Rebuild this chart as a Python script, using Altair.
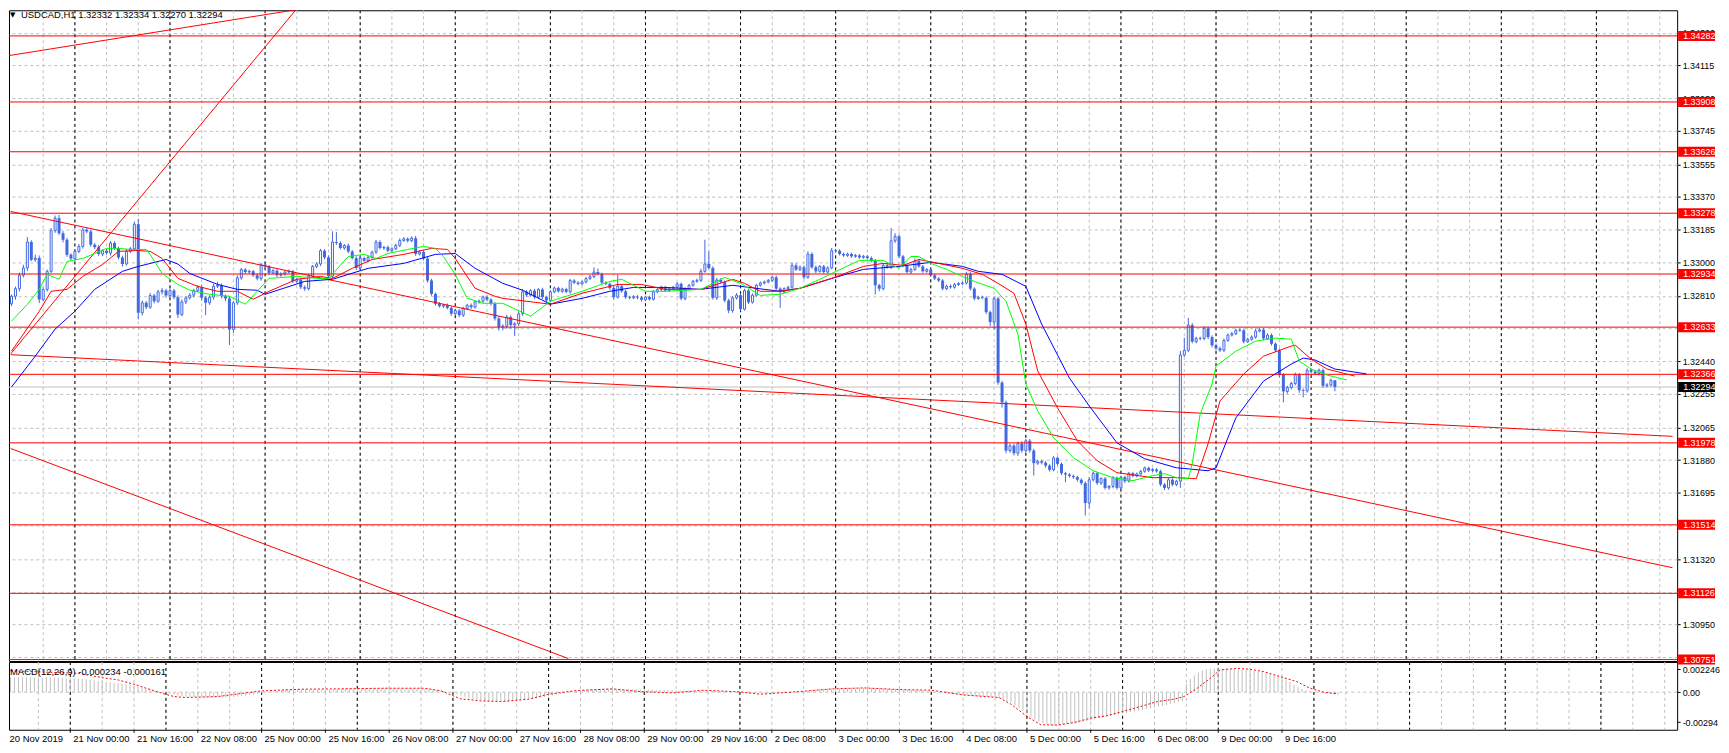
import altair as alt
import pandas as pd

FONT = "Liberation Sans"
CANDLE = "#4169E1"
PT = 1e-5  # one price point

# ---------------- price data (points, 1e-5) ----------------
first_open = 132765
closes = [
    132808, 132851, 132927, 132968, 133115, 133015, 133024, 132789, 132846, 132949,
    133179, 133250, 133165, 133128, 133043, 133021, 133062, 133090, 133184, 133175,
    133100, 133085, 133047, 133066, 133053, 133109, 133081, 133028, 132991, 133062,
    133077, 133216, 132714, 132771, 132746, 132812, 132780, 132833, 132840, 132812,
    132840, 132803, 132705, 132776, 132799, 132814, 132840, 132859, 132799, 132771,
    132803, 132865, 132870, 132808, 132795, 132620, 132771, 132912, 132959, 132945,
    132949, 132927, 132908, 132987, 132977, 132940, 132953, 132927, 132934, 132945,
    132949, 132893, 132902, 132859, 132851, 132921, 132977, 132991, 133066, 133028,
    132921, 133115, 133109, 133081, 133096, 133062, 133024, 132968, 133024, 133009,
    133028, 133058, 133115, 133081, 133085, 133066, 133077, 133096, 133124, 133133,
    133122, 133137, 133047, 133058, 133021, 132897, 132821, 132765, 132752, 132757,
    132742, 132709, 132727, 132701, 132739, 132757, 132746, 132776, 132780, 132804,
    132789, 132765, 132682, 132633, 132639, 132690, 132645, 132652, 132709, 132833,
    132814, 132840, 132803, 132846, 132803, 132784, 132833, 132855, 132836, 132848,
    132833, 132897, 132885, 132878, 132889, 132908, 132919, 132945, 132934, 132885,
    132878, 132855, 132803, 132865, 132836, 132803, 132799, 132806, 132801, 132788,
    132803, 132791, 132833, 132846, 132859, 132840, 132851, 132859, 132878, 132795,
    132851, 132870, 132893, 132898, 132949, 132991, 132968, 132799, 132900, 132889,
    132784, 132727, 132799, 132814, 132735, 132840, 132774, 132814, 132870, 132883,
    132889, 132898, 132915, 132851, 132833, 132851, 132859, 132983, 132959, 132972,
    132915, 133047, 132972, 132949, 132977, 132945, 132968, 133066, 133066, 133047,
    133039, 133047, 133034, 133039, 133028, 133034, 133024, 133009, 132870, 132851,
    132983, 132972, 133122, 133147, 133034, 132983, 132945, 132959, 133009, 132977,
    132949, 132959, 132927, 132908, 132897, 132851, 132865, 132859, 132874, 132880,
    132883, 132934, 132851, 132795, 132803, 132799, 132718, 132662, 132795, 132319,
    132207, 131934, 131962, 131919, 131975, 131934, 131990, 131934, 131863, 131874,
    131866, 131849, 131825, 131893, 131859, 131806, 131799, 131791, 131784, 131769,
    131750, 131637, 131769, 131806, 131750, 131776, 131723, 131731, 131780, 131723,
    131784, 131761, 131806, 131791, 131802, 131817, 131836, 131821, 131827, 131817,
    131742, 131723, 131769, 131742, 131761, 132475, 132502, 132645, 132551, 132569,
    132569, 132626, 132577, 132530, 132513, 132502, 132558, 132588, 132596, 132615,
    132615, 132551, 132564, 132577, 132611, 132618, 132569, 132588, 132539, 132502,
    132363, 132269, 132291, 132314, 132363, 132276, 132272, 132389, 132381, 132370,
    132389, 132301, 132306, 132332, 132294,
]
upper_wick = [
    10, 12, 15, 18, 28, 10, 20, 15, 12, 10,
    15, 15, 18, 12, 10, 8, 12, 14, 10, 12,
    8, 10, 12, 8, 10, 12, 10, 8, 10, 14,
    10, 15, 30, 12, 10, 14, 10, 12, 15, 10,
    12, 10, 10, 14, 10, 12, 10, 12, 15, 10,
    10, 12, 20, 10, 10, 12, 10, 15, 10, 8,
    10, 8, 10, 10, 12, 8, 10, 8, 10, 8,
    10, 8, 10, 8, 10, 12, 8, 10, 10, 8,
    12, 60, 56, 10, 8, 10, 8, 10, 12, 8,
    10, 8, 12, 10, 8, 10, 8, 10, 12, 10,
    8, 10, 12, 10, 8, 10, 10, 8, 10, 8,
    10, 8, 10, 8, 10, 8, 10, 8, 10, 8,
    10, 8, 10, 12, 10, 12, 10, 10, 12, 15,
    10, 8, 10, 8, 10, 8, 10, 8, 8, 8,
    8, 10, 8, 8, 8, 10, 10, 27, 20, 8,
    8, 8, 10, 65, 8, 8, 8, 8, 8, 8,
    8, 8, 10, 8, 8, 8, 8, 8, 10, 8,
    8, 8, 8, 10, 15, 137, 71, 10, 12, 10,
    8, 10, 10, 12, 10, 10, 8, 10, 8, 8,
    8, 8, 8, 10, 8, 8, 8, 15, 12, 10,
    10, 15, 10, 10, 8, 8, 10, 15, 10, 8,
    8, 8, 8, 8, 8, 8, 8, 10, 10, 8,
    10, 12, 72, 18, 10, 8, 8, 10, 12, 10,
    8, 8, 8, 8, 8, 8, 8, 10, 10, 8,
    8, 12, 10, 8, 8, 8, 8, 8, 10, 10,
    10, 10, 12, 12, 10, 12, 10, 10, 10, 8,
    8, 8, 8, 10, 8, 8, 8, 8, 8, 8,
    8, 10, 15, 10, 8, 8, 8, 8, 10, 8,
    8, 8, 8, 8, 8, 8, 8, 8, 8, 8,
    8, 8, 10, 8, 8, 23, 71, 41, 12, 10,
    10, 12, 10, 10, 10, 10, 10, 10, 10, 10,
    10, 10, 10, 10, 15, 10, 10, 10, 10, 8,
    10, 10, 10, 10, 12, 10, 10, 12, 10, 10,
    10, 10, 10, 10, 2,
]
lower_wick = [
    12, 20, 15, 12, 18, 8, 12, 20, 10, 12,
    10, 12, 10, 15, 12, 10, 12, 10, 12, 10,
    12, 10, 10, 12, 10, 15, 10, 12, 15, 10,
    10, 12, 37, 15, 12, 10, 12, 10, 15, 12,
    10, 12, 19, 10, 12, 10, 12, 10, 15, 70,
    12, 15, 10, 12, 15, 88, 19, 12, 10, 10,
    8, 10, 10, 12, 10, 10, 8, 10, 8, 10,
    8, 10, 12, 10, 12, 10, 8, 10, 12, 10,
    15, 12, 10, 8, 10, 10, 8, 12, 10, 8,
    10, 8, 10, 8, 10, 8, 10, 8, 10, 8,
    10, 8, 10, 8, 10, 12, 10, 10, 8, 10,
    8, 12, 10, 12, 10, 8, 10, 8, 10, 8,
    10, 10, 12, 20, 18, 15, 20, 62, 12, 12,
    10, 8, 10, 8, 10, 12, 10, 8, 8, 8,
    8, 10, 8, 8, 8, 8, 8, 8, 8, 10,
    8, 10, 12, 8, 8, 10, 8, 8, 10, 10,
    8, 8, 8, 8, 8, 8, 8, 8, 8, 10,
    10, 8, 8, 8, 10, 8, 8, 10, 12, 8,
    10, 15, 12, 10, 12, 8, 10, 8, 8, 8,
    8, 8, 8, 10, 91, 8, 8, 10, 8, 8,
    10, 8, 10, 10, 8, 10, 8, 8, 8, 8,
    8, 8, 8, 8, 8, 8, 8, 8, 52, 15,
    10, 8, 10, 12, 10, 10, 8, 10, 8, 8,
    8, 8, 8, 8, 8, 10, 8, 8, 8, 8,
    8, 8, 10, 10, 8, 8, 10, 23, 42, 12,
    29, 15, 12, 12, 15, 12, 10, 12, 70, 10,
    10, 12, 10, 8, 10, 10, 44, 10, 10, 10,
    10, 70, 30, 10, 10, 10, 10, 10, 10, 10,
    10, 10, 8, 8, 8, 8, 8, 8, 8, 8,
    10, 12, 10, 10, 10, 38, 10, 10, 10, 10,
    10, 10, 12, 10, 12, 10, 10, 8, 8, 8,
    8, 10, 8, 8, 10, 8, 10, 8, 10, 10,
    15, 62, 12, 10, 10, 15, 37, 10, 10, 8,
    10, 12, 10, 10, 24,
]

# Alligator lines (bar, points)
jaw = [[0,132294],[6,132469],[11,132622],[16,132723],[21,132847],[28,132949],[32,132977],[39,133016],[42,132990],[45,132937],[52,132875],[57,132847],[62,132842],[64,132819],[74,132892],[81,132904],[90,132966],[99,132994],[107,133045],[112,133050],[117,132966],[124,132881],[129,132842],[136,132763],[144,132796],[151,132836],[157,132858],[165,132858],[174,132847],[182,132870],[190,132847],[194,132836],[199,132853],[207,132909],[215,132960],[224,132977],[232,133000],[240,132977],[244,132949],[250,132932],[256,132864],[260,132650],[267,132345],[272,132187],[279,131978],[286,131888],[294,131837],[302,131820],[304,131837],[309,132119],[316,132328],[323,132424],[326,132458],[329,132447],[334,132396],[342,132368]]
teeth = [[0,132497],[7,132723],[10,132836],[14,132847],[18,132920],[23,132988],[27,133062],[32,133067],[35,133062],[38,133022],[42,132909],[47,132864],[52,132836],[57,132836],[61,132791],[65,132836],[72,132904],[78,132920],[81,132909],[86,132966],[91,133016],[99,133045],[106,133079],[110,133073],[112,133022],[117,132853],[122,132808],[124,132796],[136,132763],[144,132825],[153,132875],[159,132875],[165,132847],[174,132847],[182,132904],[185,132881],[189,132836],[194,132836],[199,132853],[207,132909],[215,132977],[220,132994],[225,132983],[229,133016],[234,132994],[240,132966],[245,132932],[249,132881],[253,132825],[256,132650],[259,132385],[264,132176],[269,131990],[274,131877],[279,131809],[288,131781],[294,131781],[299,131775],[302,131973],[305,132215],[311,132368],[316,132469],[323,132526],[324,132531],[328,132452],[332,132396],[339,132356]]
lips = [[0,132667],[4,132762],[7,132847],[9,132932],[12,132904],[14,133005],[18,133022],[21,133050],[24,133079],[27,133079],[30,133073],[34,133073],[35,133045],[38,132937],[42,132875],[45,132842],[50,132819],[55,132808],[59,132763],[62,132836],[65,132909],[72,132921],[77,132909],[80,132909],[85,133033],[89,133045],[92,133022],[95,133050],[100,133073],[104,133090],[107,133079],[109,133033],[112,132932],[115,132797],[119,132768],[124,132768],[131,132695],[136,132780],[144,132836],[151,132892],[154,132904],[160,132836],[165,132836],[174,132847],[180,132915],[184,132881],[189,132813],[194,132819],[199,132853],[204,132904],[207,132937],[214,133011],[220,133011],[224,132966],[227,133033],[229,133033],[232,132994],[236,132960],[240,132920],[243,132892],[248,132853],[251,132779],[254,132593],[256,132311],[259,132159],[263,132007],[268,131894],[273,131820],[278,131781],[283,131764],[288,131792],[291,131804],[294,131781],[297,131775],[298,131860],[300,132142],[303,132311],[304,132413],[309,132497],[314,132554],[319,132571],[323,132565],[325,132441],[328,132396],[332,132362],[337,132334]]

# MACD main (histogram) in 1e-6 per bar, signal (bar, 1e-6)
macd_main = [
    1400, 1420, 1440, 1450, 1470, 1480, 1460, 1440, 1430, 1420, 1440, 1450, 1430, 1410, 1390, 1370, 1350, 1330, 1320, 1300,
    1250, 1200, 1150, 1100, 1050, 1000, 950, 900, 870, 840,
    800, 760, 620, 520, 430, 340, 250, 170, 100, 40,
    -60, -150, -240, -320, -380, -420, -450, -470, -490, -500, -510, -520, -520, -510, -500, -520, -500, -470, -430, -380, -330, -280, -230, -180,
    -100, -20, 60, 120, 170, 210, 240, 260, 270, 270, 270, 260, 250, 240, 230, 230, 240, 260,
    290, 320, 340, 360, 370, 370, 370, 380, 390, 400, 410, 420, 420, 430, 430, 430, 430, 430, 420, 420, 410, 400, 390, 380, 350,
    300, 230, 150, 80, 20, -50,
    -200, -330, -450, -560, -650, -730, -800, -850, -890, -910, -920, -920,
    -910, -900, -880, -850, -810, -760, -710, -650, -590, -530,
    -460, -390, -320, -250, -180,
    -100, -20, 60, 130, 190, 240, 280, 310, 330, 340, 350, 350, 350, 340, 330, 320, 310, 300, 290, 280, 270, 260,
    250, 240, 230, 220, 210, 200, 190, 190, 180, 180, 170, 170, 170, 180, 180, 170, 150, 120, 90, 60, 30, 10, -10,
    -40, -60, -80, -90, -100, -100, -100, -90, -80, -60, -40, -20, 0, 30, 70,
    120, 170, 220, 270, 310, 340, 370, 390, 410, 420, 430, 440, 440, 440, 440, 430, 430, 420, 410, 400, 390,
    370, 350, 330, 310, 290, 270, 250, 230, 200, 170, 140, 100,
    50, 0, -60, -120, -180, -230, -280, -320, -360, -390, -420, -450, -470, -490, -500, -520,
    -600, -700, -850, -1000,
    -1250, -1550, -1850, -2150, -2450,
    -2700, -2900, -3050, -3150, -3250, -3290, -3280,
    -3200, -3150, -3100, -3050, -2990, -2920, -2850, -2760, -2650, -2550,
    -2450, -2380, -2310, -2240, -2170, -2100, -2030, -1960, -1890, -1820,
    -1740, -1660, -1580, -1500, -1420, -1340, -1250, -1150, -1050, -950, -850,
    800, 1300, 1650, 1950, 2150, 2250, 2300,
    2340, 2340, 2330, 2310, 2290, 2260, 2230, 2200, 2170, 2140,
    2080, 2010, 1930, 1850, 1760, 1660, 1550, 1430,
    1250, 1000, 750, 500,
    330, 200, 100, 20, -40, -90, -140, -180, -210, -234,
]
macd_signal = [[0,2113],[18,1852],[24,1429],[28,1201],[32,778],[35,387],[39,-101],[42,-427],[45,-524],[53,-427],[64,127],[74,290],[82,322],[95,387],[105,387],[109,127],[114,-654],[119,-850],[124,-915],[131,-687],[136,-198],[143,160],[152,322],[159,62],[167,-68],[175,192],[184,30],[189,-198],[199,62],[207,322],[215,420],[224,257],[232,192],[240,-264],[249,-524],[252,-1175],[256,-2380],[259.5,-3193],[263.7,-3225],[268,-2966],[272,-2542],[276,-2315],[280,-1891],[284.5,-1403],[288.7,-915],[292.9,-687],[295.4,-427],[298.7,387],[302,1364],[304.5,2178],[308.7,2341],[312,2243],[315.4,2015],[319.5,1527],[323.7,1038],[327,387],[330.4,0],[334,-161]]

# objects
hlines = [1.34282, 1.33908, 1.33626, 1.33278, 1.32934, 1.32633, 1.32366, 1.31978, 1.31514, 1.31126, 1.30751]
bid = 1.32294
trend_lines = [
    [(-0.5, 1.34171), (75.7, 1.34444)],
    [(-0.2, 1.32482), (72.4, 1.34447)],
    [(-0.2, 1.33288), (419.2, 1.31271)],
    [(-0.2, 1.32477), (419.2, 1.32015)],
    [(-0.2, 1.31946), (140.5, 1.30757)],
]
price_ticks = [1.34300, 1.34115, 1.33930, 1.33745, 1.33555, 1.33370, 1.33185, 1.33000, 1.32810, 1.32625,
               1.32440, 1.32255, 1.32065, 1.31880, 1.31695, 1.31510, 1.31320, 1.31135, 1.30950, 1.30765]
macd_ticks = [0.002246, 0.0, -0.00294]
macd_tick_labels = ["0.002246", "0.00", "-0.00294"]
grid_bars = [8 * k for k in range(1, 53)]
sep_bars = [16, 40, 64, 88, 112, 136, 160, 184, 208, 232, 256, 280, 304, 328, 352, 376, 400]
label_bars = [0, 16, 32, 48, 64, 80, 96, 112, 128, 144, 160, 176, 192, 208, 224, 240, 256, 272, 288, 304, 320]
label_texts = ["20 Nov 2019", "21 Nov 00:00", "21 Nov 16:00", "22 Nov 08:00", "25 Nov 00:00", "25 Nov 16:00",
               "26 Nov 08:00", "27 Nov 00:00", "27 Nov 16:00", "28 Nov 08:00", "29 Nov 00:00", "29 Nov 16:00",
               "2 Dec 08:00", "3 Dec 00:00", "3 Dec 16:00", "4 Dec 08:00", "5 Dec 00:00", "5 Dec 16:00",
               "6 Dec 08:00", "9 Dec 00:00", "9 Dec 16:00"]
symbol = "USDCAD,H1"

# ---------------- tables ----------------
opens = [first_open] + closes[:-1]
rows = []
for i, (o, c, u, d) in enumerate(zip(opens, closes, upper_wick, lower_wick)):
    rows.append({"bar": i, "open": o * PT, "close": c * PT,
                 "high": (max(o, c) + u) * PT, "low": (min(o, c) - d) * PT})
candles = pd.DataFrame(rows)
last = rows[-1]

def line_df(pairs):
    return pd.DataFrame({"bar": [p[0] for p in pairs], "price": [p[1] * PT for p in pairs]})

trend_df = pd.DataFrame([{"line": k, "bar": b, "price": p}
                         for k, seg in enumerate(trend_lines) for (b, p) in seg])
hl_df = pd.DataFrame({"price": hlines, "label": [f"{p:.5f}" for p in hlines]})
bid_df = pd.DataFrame({"price": [bid], "label": [f"{bid:.5f}"]})
grid_df = pd.DataFrame({"bar": grid_bars})
sep_df = pd.DataFrame({"bar": sep_bars})
lab_df = pd.DataFrame({"bar": label_bars, "label": label_texts})
hist_df = pd.DataFrame({"bar": list(range(len(macd_main))), "v": [m * 1e-6 for m in macd_main], "zero": 0.0})
sig_df = pd.DataFrame({"bar": [s[0] for s in macd_signal], "v": [s[1] * 1e-6 for s in macd_signal]})

title_text = f"{symbol}  {last['open']:.5f} {last['high']:.5f} {last['low']:.5f} {last['close']:.5f}"
macd_title = f"MACD(12,26,9) {macd_main[-1] * 1e-6:.6f} {macd_signal[-1][1] * 1e-6:.6f}"

# ---------------- scales / axes ----------------
W, H_MAIN, H_MACD = 1674, 653, 68
x_scale = alt.Scale(domain=[0.625, 419.125], nice=False, zero=False)
y_scale = alt.Scale(domain=[1.307429, 1.344270], nice=False, zero=False)
m_scale = alt.Scale(domain=[-0.003682, 0.002959], nice=False, zero=False)

X = alt.X("bar:Q", scale=x_scale, axis=None)
y_axis = alt.Axis(orient="right", values=price_ticks, format=".5f", grid=True, gridColor="#C0C0C0",
                  gridDash=[3, 3], gridWidth=1, tickColor="black", tickSize=3, tickWidth=1,
                  labelFont=FONT, labelFontSize=9, labelColor="black", labelPadding=2,
                  labelOverlap=False, domain=False, title=None)
expr = ("[" + ",".join(f"'{t}'" for t in macd_tick_labels) + "][indexof(["
        + ",".join(repr(v) for v in macd_ticks) + "], datum.value)]")
m_axis = alt.Axis(orient="right", values=macd_ticks, labelExpr=expr, grid=False, tickColor="black",
                  tickSize=3, tickWidth=1, labelFont=FONT, labelFontSize=9, labelColor="black",
                  labelPadding=2, labelOverlap=False, domain=False, title=None)

def Y(f):
    return alt.Y(f"{f}:Q", scale=y_scale, axis=y_axis)

def MY(f):
    return alt.Y(f"{f}:Q", scale=m_scale, axis=m_axis)

# ---------------- main panel ----------------
vgrid = alt.Chart(grid_df).mark_rule(color="#C0C0C0", strokeDash=[3, 3], strokeWidth=1).encode(x=X)
seps = alt.Chart(sep_df).mark_rule(color="black", strokeDash=[3, 3], strokeWidth=1).encode(x=X)
bid_line = alt.Chart(bid_df).mark_rule(color="#C0C0C0", strokeWidth=1).encode(y=Y("price"))
wicks = alt.Chart(candles).mark_rule(color=CANDLE, strokeWidth=1, clip=True).encode(
    x=X, y=Y("low"), y2="high")
bear = alt.Chart(candles).transform_filter("datum.close < datum.open").mark_bar(
    width=3, color=CANDLE, clip=True).encode(x=X, y=Y("open"), y2="close")
bull = alt.Chart(candles).transform_filter("datum.close >= datum.open").mark_bar(
    width=2, fill="white", stroke=CANDLE, strokeWidth=1, clip=True).encode(x=X, y=Y("open"), y2="close")
hl = alt.Chart(hl_df).mark_rule(color="#FF0000", strokeWidth=1).encode(y=Y("price"))
trend = alt.Chart(trend_df).mark_line(color="#FF0000", strokeWidth=1, clip=True).encode(
    x=X, y=Y("price"), detail="line:N")
jaw_l = alt.Chart(line_df(jaw)).mark_line(color="#0000FF", strokeWidth=1, clip=True).encode(x=X, y=Y("price"))
teeth_l = alt.Chart(line_df(teeth)).mark_line(color="#FF0000", strokeWidth=1, clip=True).encode(x=X, y=Y("price"))
lips_l = alt.Chart(line_df(lips)).mark_line(color="#00FF00", strokeWidth=1, clip=True).encode(x=X, y=Y("price"))

boxes = alt.Chart(hl_df).mark_rect(color="#FF0000", yOffset=-5, y2Offset=5).encode(
    x=alt.value(W + 1), x2=alt.value(W + 38), y=Y("price"), y2="price")
box_txt = alt.Chart(hl_df).mark_text(align="left", baseline="middle", color="white", font=FONT,
                                     fontSize=9).encode(x=alt.value(W + 6), y=Y("price"), text="label:N")
bid_box = alt.Chart(bid_df).mark_rect(color="black", yOffset=-5, y2Offset=5).encode(
    x=alt.value(W + 1), x2=alt.value(W + 38), y=Y("price"), y2="price")
bid_txt = alt.Chart(bid_df).mark_text(align="left", baseline="middle", color="white", font=FONT,
                                      fontSize=9).encode(x=alt.value(W + 6), y=Y("price"), text="label:N")
tri = alt.Chart(pd.DataFrame({"t": ["\u25bc"]})).mark_text(
    align="left", baseline="middle", font="DejaVu Sans", fontSize=7, color="black").encode(
    x=alt.value(1), y=alt.value(5), text="t:N")
title = alt.Chart(pd.DataFrame({"t": [title_text]})).mark_text(
    align="left", baseline="middle", font=FONT, fontSize=9.5, color="black").encode(
    x=alt.value(12), y=alt.value(5), text="t:N")

main = alt.layer(vgrid, seps, bid_line, wicks, bear, bull, hl, trend, jaw_l, teeth_l, lips_l,
                 boxes, box_txt, bid_box, bid_txt, tri, title).properties(width=W, height=H_MAIN)

# ---------------- MACD panel ----------------
m_vgrid = alt.Chart(grid_df).mark_rule(color="#C0C0C0", strokeDash=[3, 3], strokeWidth=1).encode(x=X)
m_seps = alt.Chart(sep_df).mark_rule(color="black", strokeDash=[3, 3], strokeWidth=1).encode(x=X)
zero = alt.Chart(pd.DataFrame({"v": [0.0]})).mark_rule(color="#C0C0C0", strokeDash=[3, 3],
                                                       strokeWidth=1).encode(y=MY("v"))
hist = alt.Chart(hist_df).mark_rule(color="#C0C0C0", strokeWidth=1, clip=True).encode(
    x=X, y=MY("zero"), y2="v")
sig = alt.Chart(sig_df).mark_line(color="#FF0000", strokeDash=[2, 2], strokeWidth=1, clip=True).encode(
    x=X, y=MY("v"))
m_title = alt.Chart(pd.DataFrame({"t": [macd_title]})).mark_text(
    align="left", baseline="middle", font=FONT, fontSize=9.5, color="black").encode(
    x=alt.value(1), y=alt.value(10), text="t:N")
x_ticks = alt.Chart(lab_df).transform_filter("datum.bar > 0").mark_rule(color="black", strokeWidth=1).encode(
    x=X, y=alt.value(H_MACD), y2=alt.value(H_MACD + 3))
x_labels = alt.Chart(lab_df).mark_text(align="left", baseline="middle", font=FONT, fontSize=9.5,
                                       color="black", dx=3).encode(
    x=X, y=alt.value(H_MACD + 9), text="label:N")

macd = alt.layer(m_vgrid, m_seps, zero, hist, sig, m_title, x_ticks, x_labels).properties(
    width=W, height=H_MACD)

chart = alt.vconcat(main, macd, spacing=1, bounds="flush").properties(
    padding=0, background="white").configure_view(stroke="black", strokeWidth=1)

chart.save("out.html", embed_options={"renderer": "svg", "actions": False})
